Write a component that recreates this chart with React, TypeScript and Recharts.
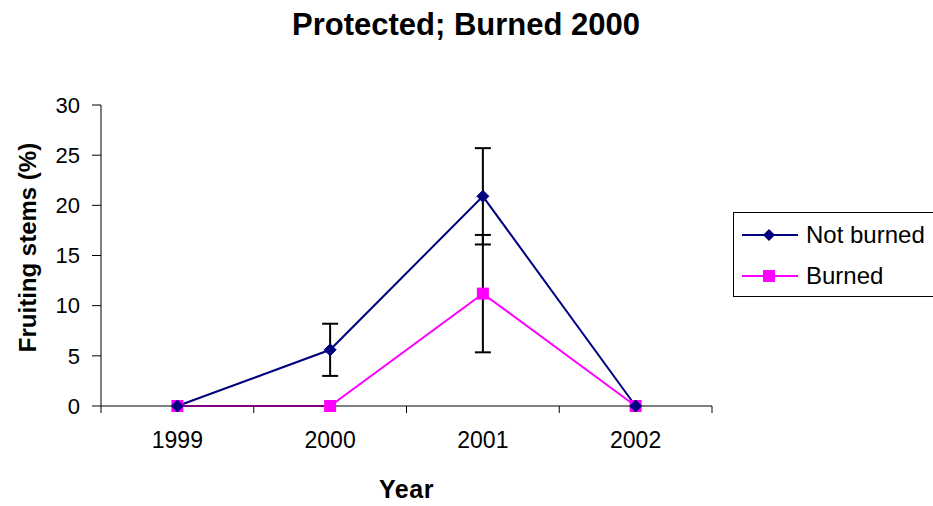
import React from "react";
import { LineChart, Line, XAxis, YAxis, ErrorBar, Legend } from "recharts";

const years = [1999, 2000, 2001, 2002];
const notBurned = [0, 5.6, 20.9, 0];
const notBurnedErr = [0, 2.6, 4.8, 0];
const burned = [0, 0, 11.2, 0];
const burnedErr = [0, 0, 5.85, 0];
const yTicks = [0, 5, 10, 15, 20, 25, 30];
const boundaryTicks = [1998.5, 1999.5, 2000.5, 2001.5, 2002.5];
const xDomain = [1998.5, 2002.5];

const NAVY = "#000080";
const MAGENTA = "#FF00FF";
const FONT = "'Liberation Sans', Arial, sans-serif";

const data = years.map((year, i) => ({
  year,
  notBurned: notBurned[i],
  notBurnedErr: notBurnedErr[i],
  burned: burned[i],
  burnedErr: burnedErr[i],
}));

const Diamond = (props: any) => {
  const { cx, cy } = props;
  if (cx == null || cy == null) return null;
  const s = 6;
  return (
    <path
      d={`M${cx},${cy - s} L${cx + s},${cy} L${cx},${cy + s} L${cx - s},${cy} Z`}
      fill={NAVY}
      stroke={NAVY}
    />
  );
};

const Square = (props: any) => {
  const { cx, cy } = props;
  if (cx == null || cy == null) return null;
  const s = 6;
  return <rect x={cx - s} y={cy - s} width={s * 2} height={s * 2} fill={MAGENTA} />;
};

// tick marks sit on the category boundaries, the year label goes in the middle of each band
const YearTick = (props: any) => {
  const { x, y, payload, width } = props;
  const value = payload.value as number;
  if (value >= xDomain[1]) return null;
  const half = (width / (xDomain[1] - xDomain[0])) * 0.5;
  return (
    <text
      x={x + half}
      y={y}
      dy="0.71em"
      textAnchor="middle"
      style={{ fill: "#000", fontSize: 23, fontFamily: FONT }}
    >
      {value + 0.5}
    </text>
  );
};

const LegendBox = () => (
  <div
    style={{
      border: "1px solid #000",
      background: "#fff",
      width: 210,
      height: 85,
      fontFamily: FONT,
      fontSize: 24,
      color: "#000",
      boxSizing: "border-box",
      paddingTop: 1,
    }}
  >
    {[
      { label: "Not burned", color: NAVY, marker: "diamond" },
      { label: "Burned", color: MAGENTA, marker: "square" },
    ].map((item) => (
      <div key={item.label} style={{ display: "flex", alignItems: "center", height: 41, paddingLeft: 8 }}>
        <svg width={58} height={20} style={{ marginRight: 6 }}>
          <line x1={0} y1={10} x2={56} y2={10} stroke={item.color} strokeWidth={2} />
          {item.marker === "diamond" ? (
            <path d="M27,4 L33,10 L27,16 L21,10 Z" fill={item.color} />
          ) : (
            <rect x={21} y={4} width={12} height={12} fill={item.color} />
          )}
        </svg>
        <span style={{ whiteSpace: "nowrap" }}>{item.label}</span>
      </div>
    ))}
  </div>
);

export default function App() {
  return (
    <div style={{ position: "absolute", left: 0, top: 0, width: 933, height: 506, background: "#fff", overflow: "hidden" }}>
      <LineChart
        width={933}
        height={506}
        data={data}
        margin={{ top: 105, right: 221, left: 20, bottom: 40 }}
      >
        <XAxis
          dataKey="year"
          type="number"
          domain={xDomain}
          ticks={boundaryTicks}
          allowDataOverflow
          stroke="#000"
          tickSize={7}
          tickMargin={19}
          height={60}
          tick={<YearTick />}
          label={{
            content: ({ viewBox }: any) => (
              <text
                x={viewBox.x + viewBox.width / 2}
                y={498}
                textAnchor="middle"
                style={{ fill: "#000", fontSize: 25, fontWeight: "bold", fontFamily: FONT, letterSpacing: 0.5 }}
              >
                Year
              </text>
            ),
          }}
        />
        <YAxis
          domain={[0, 30]}
          ticks={yTicks}
          width={81}
          stroke="#000"
          tickSize={9}
          tickMargin={12}
          tick={{ fill: "#000", fontSize: 22, fontFamily: FONT }}
          label={{
            content: ({ viewBox }: any) => {
              const cy = viewBox.y + viewBox.height / 2 - 8;
              return (
                <text
                  x={27}
                  y={cy}
                  transform={`rotate(-90, 27, ${cy})`}
                  textAnchor="middle"
                  dominantBaseline="central"
                  style={{ fill: "#000", fontSize: 24, fontWeight: "bold", fontFamily: FONT }}
                >
                  Fruiting stems (%)
                </text>
              );
            },
          }}
        />
        <Legend
          content={() => <LegendBox />}
          layout="horizontal"
          verticalAlign="middle"
          align="center"
          wrapperStyle={{ position: "absolute", left: 733, top: 212, width: 210, height: 85 }}
        />
        <Line
          dataKey="burned"
          name="Burned"
          stroke={MAGENTA}
          strokeWidth={2}
          dot={<Square />}
          activeDot={false}
          isAnimationActive={false}
        >
          <ErrorBar dataKey="burnedErr" direction="y" width={8} stroke="#000" strokeWidth={2} />
        </Line>
        <Line
          dataKey="notBurned"
          name="Not burned"
          stroke={NAVY}
          strokeWidth={2}
          dot={<Diamond />}
          activeDot={false}
          isAnimationActive={false}
        >
          <ErrorBar dataKey="notBurnedErr" direction="y" width={8} stroke="#000" strokeWidth={2} />
        </Line>
      </LineChart>
      <svg width={933} height={50} style={{ position: "absolute", left: 0, top: 0, pointerEvents: "none" }}>
        <text
          x={466}
          y={35}
          textAnchor="middle"
          style={{ fill: "#000", fontSize: 31, fontWeight: "bold", fontFamily: FONT }}
        >
          Protected; Burned 2000
        </text>
      </svg>
    </div>
  );
}
